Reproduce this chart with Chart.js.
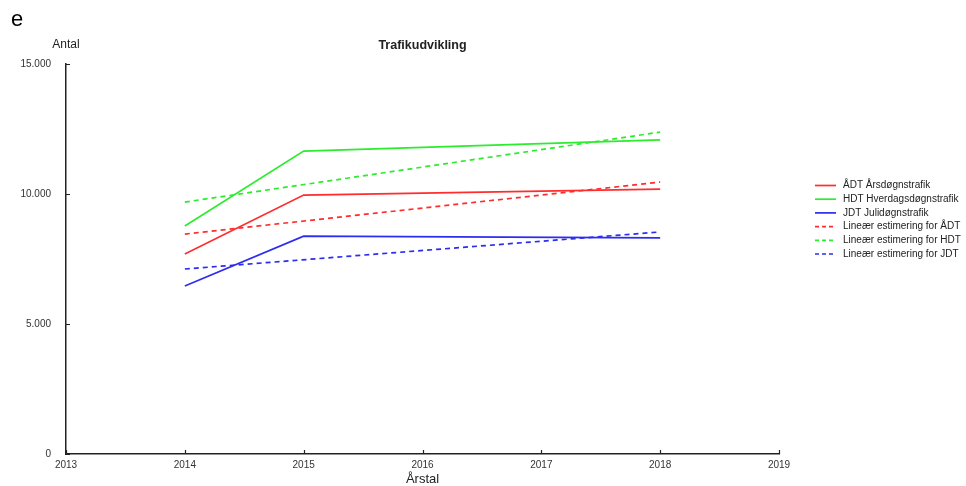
<!DOCTYPE html>
<html>
<head>
<meta charset="utf-8">
<script src="https://cdn.jsdelivr.net/npm/chart.js@4"></script>
<style>
  body { margin: 0; background: #fff; }
  #wrap { position: relative; width: 966px; height: 486px; }
</style>
</head>
<body>
<div id="wrap"><canvas id="trafficChart" width="966" height="486"></canvas></div>
<script>
// Data
const years = [2014, 2015, 2018];
const adt = [7690, 9960, 10190];
const hdt = [8770, 11650, 12080];
const jdt = [6460, 8380, 8310];

// Linear estimates (end points)
const trendYears = [2014, 2018];
const adtTrend = [8460, 10460];
const hdtTrend = [9690, 12380];
const jdtTrend = [7115, 8540];

const seriesLabels = [
    'ÅDT Årsdøgnstrafik',
    'HDT Hverdagsdøgnstrafik',
    'JDT Julidøgnstrafik',
    'Lineær estimering for ÅDT',
    'Lineær estimering for HDT',
    'Lineær estimering for JDT'
];

const RED = 'rgb(255,45,45)';
const GREEN = 'rgb(45,235,45)';
const BLUE = 'rgb(45,45,240)';
const FONT = '"Liberation Sans", Arial, sans-serif';

const toPoints = (xs, ys) => xs.map((x, i) => ({ x: x, y: ys[i] }));
const fmt = v => String(v).replace(/\B(?=(\d{3})+(?!\d))/g, '.');

function line(label, xs, ys, color, dashed) {
    return {
        label: label,
        data: toPoints(xs, ys),
        borderColor: color,
        backgroundColor: color,
        borderWidth: 1.7,
        borderDash: dashed ? [5, 4] : [],
        pointRadius: 0,
        tension: 0,
        fill: false
    };
}

// Draws inward ticks, the legend and the free-standing texts
const decorations = {
    id: 'decorations',
    afterDraw(chart) {
        const ctx = chart.ctx;
        const xs = chart.scales.x, ys = chart.scales.y;
        const area = chart.chartArea;
        ctx.save();
        ctx.strokeStyle = '#222';
        ctx.lineWidth = 1.2;
        ctx.beginPath();
        xs.ticks.forEach(t => {
            const px = Math.round(xs.getPixelForValue(t.value)) + 0.5;
            ctx.moveTo(px, area.bottom);
            ctx.lineTo(px, area.bottom - 4);
        });
        ys.ticks.forEach(t => {
            const py = Math.round(ys.getPixelForValue(t.value)) + 0.5;
            ctx.moveTo(area.left, py);
            ctx.lineTo(area.left + 4, py);
        });
        ctx.stroke();

        ctx.fillStyle = '#222';
        ctx.textAlign = 'center';
        ctx.textBaseline = 'middle';
        ctx.font = 'bold 12.5px ' + FONT;
        ctx.fillText('Trafikudvikling', (area.left + area.right) / 2, 46);
        ctx.font = '12px ' + FONT;
        ctx.fillText('Antal', area.left, 45);
        ctx.font = '13px ' + FONT;
        ctx.fillText('Årstal', (area.left + area.right) / 2, 479);
        ctx.textAlign = 'left';
        ctx.font = '22px ' + FONT;
        ctx.fillStyle = '#000';
        ctx.fillText('e', 11, 20);

        // legend
        ctx.font = '10px ' + FONT;
        ctx.fillStyle = '#222';
        chart.data.datasets.forEach((ds, i) => {
            const y = 185.5 + i * 13.7;
            ctx.strokeStyle = ds.borderColor;
            ctx.lineWidth = 1.7;
            ctx.setLineDash(ds.borderDash.length ? [4, 3] : []);
            ctx.beginPath();
            ctx.moveTo(815, y);
            ctx.lineTo(836, y);
            ctx.stroke();
            ctx.setLineDash([]);
            ctx.fillText(ds.label, 843, y);
        });
        ctx.restore();
    }
};

new Chart(document.getElementById('trafficChart').getContext('2d'), {
    type: 'line',
    data: {
        datasets: [
            line(seriesLabels[0], years, adt, RED, false),
            line(seriesLabels[1], years, hdt, GREEN, false),
            line(seriesLabels[2], years, jdt, BLUE, false),
            line(seriesLabels[3], trendYears, adtTrend, RED, true),
            line(seriesLabels[4], trendYears, hdtTrend, GREEN, true),
            line(seriesLabels[5], trendYears, jdtTrend, BLUE, true)
        ]
    },
    options: {
        responsive: false,
        animation: false,
        layout: { padding: { top: 64, right: 187, left: 0, bottom: 0 } },
        plugins: {
            legend: { display: false },
            tooltip: { enabled: false }
        },
        scales: {
            x: {
                type: 'linear',
                min: 2013,
                max: 2019,
                border: { display: true, color: '#222', width: 1.5 },
                grid: { display: false, drawTicks: false },
                ticks: {
                    stepSize: 1,
                    padding: 5,
                    color: '#333',
                    font: { family: FONT, size: 10 },
                    callback: v => String(v),
                    maxRotation: 0
                },
                afterFit: s => { s.height = 32; }
            },
            y: {
                min: 0,
                max: 15000,
                border: { display: true, color: '#222', width: 1.5 },
                grid: { display: false, drawTicks: false },
                ticks: {
                    stepSize: 5000,
                    padding: 15,
                    color: '#333',
                    font: { family: FONT, size: 10 },
                    callback: v => fmt(v)
                },
                afterFit: s => { s.width = 66; }
            }
        }
    },
    plugins: [decorations]
});
</script>
</body>
</html>
